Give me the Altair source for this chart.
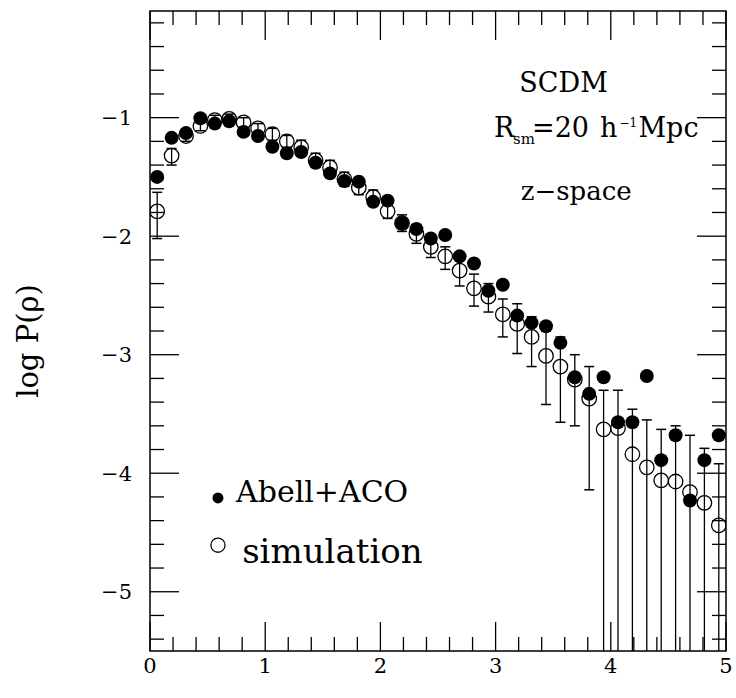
import altair as alt
import pandas as pd

# ---- data ----
x_bins = [0.0625, 0.1875, 0.3125, 0.4375, 0.5625, 0.6875, 0.8125, 0.9375, 1.0625, 1.1875,
          1.3125, 1.4375, 1.5625, 1.6875, 1.8125, 1.9375, 2.0625, 2.1875, 2.3125, 2.4375,
          2.5625, 2.6875, 2.8125, 2.9375, 3.0625, 3.1875, 3.3125, 3.4375, 3.5625, 3.6875,
          3.8125, 3.9375, 4.0625, 4.1875, 4.3125, 4.4375, 4.5625, 4.6875, 4.8125, 4.9375]

abell = [-1.50, -1.17, -1.13, -1.005, -1.05, -1.03, -1.12, -1.155, -1.245, -1.30,
         -1.29, -1.38, -1.47, -1.535, -1.54, -1.71, -1.70, -1.89, -1.94, -2.02,
         -1.99, -2.17, -2.23, -2.46, -2.41, -2.67, -2.73, -2.76, -2.90, -3.19,
         -3.33, -3.19, -3.57, -3.57, -3.18, -3.89, -3.68, -4.23, -3.89, -3.68]

sim = [-1.79, -1.32, -1.155, -1.07, -1.02, -1.01, -1.04, -1.09, -1.14, -1.20,
       -1.25, -1.36, -1.42, -1.52, -1.59, -1.67, -1.79, -1.89, -1.98, -2.09,
       -2.17, -2.29, -2.44, -2.51, -2.66, -2.74, -2.85, -3.01, -3.10, -3.21,
       -3.37, -3.63, -3.62, -3.84, -3.95, -4.06, -4.07, -4.16, -4.25, -4.44]

sim_hi = [-1.63, -1.26, -1.11, -1.02, -0.98, -0.97, -1.00, -1.05, -1.09, -1.15,
          -1.19, -1.30, -1.36, -1.46, -1.53, -1.61, -1.72, -1.82, -1.90, -2.00,
          -2.09, -2.18, -2.32, -2.40, -2.53, -2.57, -2.68, -2.80, -2.85, -3.00,
          -3.10, -3.30, -3.30, -3.46, -3.55, -3.63, -3.60, -3.68, -3.79, -3.92]

sim_lo = [-2.02, -1.40, -1.20, -1.11, -1.06, -1.05, -1.08, -1.13, -1.19, -1.25,
          -1.31, -1.42, -1.48, -1.58, -1.65, -1.73, -1.85, -1.96, -2.06, -2.18,
          -2.28, -2.42, -2.59, -2.64, -2.85, -2.99, -3.10, -3.42, -3.57, -3.60,
          -4.14, -6.0, -6.0, -6.0, -6.0, -6.0, -6.0, -6.0, -6.0, -6.0]

x_major = [0, 1, 2, 3, 4, 5]
x_labels = ["0", "1", "2", "3", "4", "5"]
x_minor = [0.2, 0.4, 0.6, 0.8, 1.2, 1.4, 1.6, 1.8, 2.2, 2.4, 2.6, 2.8,
           3.2, 3.4, 3.6, 3.8, 4.2, 4.4, 4.6, 4.8]
y_major = [-1, -2, -3, -4, -5]
y_labels = ["\u22121", "\u22122", "\u22123", "\u22124", "\u22125"]
y_minor = [-0.2, -0.4, -0.6, -0.8, -1.2, -1.4, -1.6, -1.8, -2.2, -2.4, -2.6, -2.8,
           -3.2, -3.4, -3.6, -3.8, -4.2, -4.4, -4.6, -4.8, -5.2, -5.4]
y_title = "log P(\u03c1)"

# annotation texts
ann_c_text = ["SCDM", "z\u2212space"]
ann_c_x = [3.59, 3.70]
ann_c_y = [-0.78, -1.696]
ann_c_size = [27, 26]

ann_l_text = ["R", "sm", "=20", "h", "\u22121", "Mpc", "Abell+ACO", "simulation"]
ann_l_x = [2.986, 3.151, 3.316, 3.906, 4.075, 4.240, 0.747, 0.80]
ann_l_y = [-1.161, -1.218, -1.161, -1.161, -1.079, -1.161, -4.243, -4.756]
ann_l_size = [27, 15, 27, 27, 12, 27, 30, 34]

leg_filled_x, leg_filled_y = [0.59], [-4.209]
leg_open_x, leg_open_y = [0.59], [-4.607]

W, H = 576, 640
FONT = "DejaVu Serif"

df = pd.DataFrame({"x": x_bins, "abell": abell, "sim": sim, "lo": sim_lo, "hi": sim_hi})

xs = alt.Scale(domain=[0, 5], nice=False, zero=False)
ys = alt.Scale(domain=[-5.5, -0.1], nice=False, zero=False)


def X(f):
    return alt.X(f, scale=xs, axis=None)


def Y(f):
    return alt.Y(f, scale=ys, axis=None)


base = alt.Chart(df)

bars = base.mark_rule(color="black", strokeWidth=1.3, clip=True).encode(
    x=X("x:Q"), y=Y("lo:Q"), y2="hi:Q")
cap_hi = base.mark_rule(color="black", strokeWidth=1.5, clip=True, xOffset=-5, x2Offset=5).encode(
    x=X("x:Q"), x2="x:Q", y=Y("hi:Q"))
cap_lo = base.mark_rule(color="black", strokeWidth=1.5, clip=True, xOffset=-5, x2Offset=5).encode(
    x=X("x:Q"), x2="x:Q", y=Y("lo:Q"))

open_pts = base.mark_point(shape="circle", filled=False, size=210, strokeWidth=1.3,
                           color="black", opacity=1, clip=True).encode(x=X("x:Q"), y=Y("sim:Q"))
filled_pts = base.mark_circle(size=195, color="black", opacity=1, clip=True).encode(
    x=X("x:Q"), y=Y("abell:Q"))


def xticks(vals, length, top):
    d = pd.DataFrame({"t": vals})
    y0 = 0 if top else H
    y1 = length if top else H - length
    return alt.Chart(d).mark_rule(color="black", strokeWidth=1.3).encode(
        x=X("t:Q"), y=alt.value(y0), y2=alt.value(y1))


def yticks(vals, length, right):
    d = pd.DataFrame({"t": vals})
    x0 = W if right else 0
    x1 = W - length if right else length
    return alt.Chart(d).mark_rule(color="black", strokeWidth=1.3).encode(
        y=Y("t:Q"), x=alt.value(x0), x2=alt.value(x1))


tick_layers = [
    xticks(x_major, 29, False), xticks(x_minor, 14, False),
    xticks(x_major, 29, True), xticks(x_minor, 14, True),
    yticks(y_major, 29, False), yticks(y_minor, 14, False),
    yticks(y_major, 29, True), yticks(y_minor, 14, True),
]

xlab = alt.Chart(pd.DataFrame({"v": x_major, "t": x_labels})).mark_text(
    align="center", baseline="alphabetic", font=FONT, fontSize=21, color="black", dy=22).encode(
    x=X("v:Q"), y=alt.value(H), text="t:N")
ylab = alt.Chart(pd.DataFrame({"v": y_major, "t": y_labels})).mark_text(
    align="right", baseline="alphabetic", font=FONT, fontSize=21, color="black", dy=7.5).encode(
    y=Y("v:Q"), x=alt.value(-18), text="t:N")
ytitle = alt.Chart(pd.DataFrame({"t": [y_title]})).mark_text(
    align="center", baseline="middle", font=FONT, fontSize=29, color="black", angle=270).encode(
    x=alt.value(-121), y=alt.value(330), text="t:N")

ann_c = alt.Chart(pd.DataFrame({"text": ann_c_text, "x": ann_c_x, "y": ann_c_y, "s": ann_c_size})).mark_text(
    align="center", baseline="alphabetic", font=FONT, color="black").encode(
    x=X("x:Q"), y=Y("y:Q"), text="text:N", size=alt.Size("s:Q", scale=None, legend=None))

ann_l = alt.Chart(pd.DataFrame({"text": ann_l_text, "x": ann_l_x, "y": ann_l_y, "s": ann_l_size})).mark_text(
    align="left", baseline="alphabetic", font=FONT, color="black").encode(
    x=X("x:Q"), y=Y("y:Q"), text="text:N", size=alt.Size("s:Q", scale=None, legend=None))

leg_f = alt.Chart(pd.DataFrame({"x": leg_filled_x, "y": leg_filled_y})).mark_circle(
    size=120, color="black", opacity=1).encode(x=X("x:Q"), y=Y("y:Q"))
leg_o = alt.Chart(pd.DataFrame({"x": leg_open_x, "y": leg_open_y})).mark_point(
    shape="circle", filled=False, size=200, strokeWidth=1.3, color="black", opacity=1).encode(
    x=X("x:Q"), y=Y("y:Q"))

chart = alt.layer(
    *tick_layers, bars, cap_hi, cap_lo, open_pts, filled_pts,
    xlab, ylab, ytitle, ann_c, ann_l, leg_f, leg_o,
).properties(
    width=W, height=H,
    autosize=alt.AutoSizeParams(type="none"),
    padding={"left": 150, "top": 11, "right": 10, "bottom": 47},
    background="white",
).configure_view(
    stroke="black", strokeWidth=1.5
)

chart.save("out.html", embed_options={"renderer": "svg", "actions": False})
